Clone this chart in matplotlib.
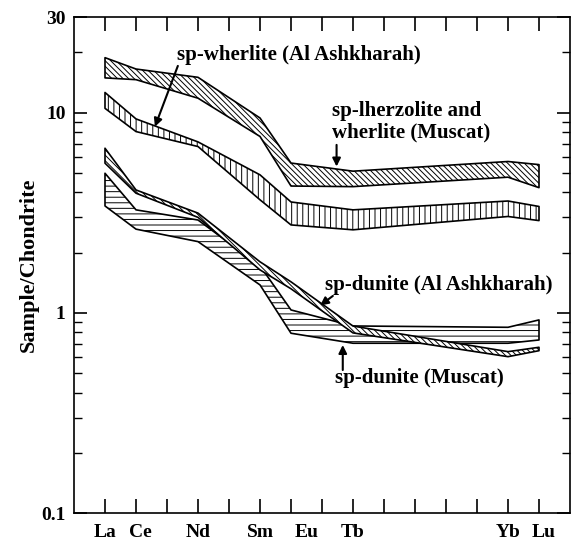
import numpy as np
import matplotlib
matplotlib.use('Agg')
import matplotlib.pyplot as plt
from matplotlib.ticker import FixedLocator, LogLocator, NullFormatter

plt.rcParams['font.family'] = 'Liberation Serif'
plt.rcParams['font.weight'] = 'bold'
plt.rcParams['hatch.linewidth'] = 0.7

# REE series (position on the x axis = index in this list)
ree_all = ['La', 'Ce', 'Pr', 'Nd', 'Pm', 'Sm', 'Eu', 'Gd', 'Tb',
           'Dy', 'Ho', 'Er', 'Tm', 'Yb', 'Lu']
elements = ['La', 'Ce', 'Nd', 'Sm', 'Eu', 'Tb', 'Yb', 'Lu']

# chondrite normalised ranges (upper / lower envelope of each field)
lhz_muscat_hi = [18.8, 16.5, 15.0, 9.4, 5.6, 5.1, 5.7, 5.5]
lhz_muscat_lo = [14.9, 14.6, 11.8, 7.6, 4.3, 4.27, 4.76, 4.22]
wehr_ashk_hi = [12.6, 9.3, 7.14, 4.89, 3.58, 3.27, 3.62, 3.40]
wehr_ashk_lo = [10.5, 8.04, 6.77, 3.67, 2.75, 2.60, 3.03, 2.89]
dun_ashk_hi = [6.64, 4.11, 3.15, 1.80, 1.43, 0.86, 0.641, 0.674]
dun_ashk_lo = [5.59, 3.96, 3.00, 1.64, 1.32, 0.795, 0.605, 0.648]
dun_muscat_hi = [4.98, 3.27, 2.91, 1.72, 1.035, 0.861, 0.848, 0.923]
dun_muscat_lo = [3.42, 2.62, 2.27, 1.38, 0.792, 0.706, 0.706, 0.733]

x = np.array([ree_all.index(e) for e in elements])

fig = plt.figure(figsize=(5.75, 5.42), dpi=100)
ax = fig.add_axes([74/575, 1 - 513.3/542, 496/575, 496.3/542])

# fields, drawn bottom to top
diag = '\\' * 6
fields = [
    (dun_muscat_lo, dun_muscat_hi, '---'),
    (dun_ashk_lo, dun_ashk_hi, diag),
    (wehr_ashk_lo, wehr_ashk_hi, '|||'),
    (lhz_muscat_lo, lhz_muscat_hi, diag),
]
for lo, hi, h in fields:
    ax.fill_between(x, lo, hi, facecolor='white', edgecolor='black',
                    hatch=h, linewidth=1.2)

ax.set_yscale('log')
ax.set_ylim(0.1, 30)
ax.set_xlim(-1, 15)

ax.yaxis.set_major_locator(FixedLocator([0.1, 1, 10, 30]))
ax.set_yticklabels(['0.1', '1', '10', '30'])
ax.yaxis.set_minor_locator(LogLocator(base=10, subs=np.arange(2, 10)))
ax.yaxis.set_minor_formatter(NullFormatter())

label_nudge = {'Ce': 0.15, 'Eu': 0.5, 'Lu': 0.15}
ax.xaxis.remove_overlapping_locs = False
ax.set_xticks(np.arange(len(ree_all)))
ax.set_xticklabels([])
ax.set_xticks([ree_all.index(e) + label_nudge.get(e, 0) for e in elements],
              minor=True)
ax.set_xticklabels(elements, minor=True)

ax.tick_params(axis='both', which='both', direction='in', top=True, right=True)
ax.tick_params(axis='x', which='major', length=10, width=1.2)
ax.tick_params(axis='x', which='minor', length=0, pad=8, labelsize=14)
ax.tick_params(axis='y', which='major', length=9.5, width=1.2,
               labelsize=14, pad=6)
ax.tick_params(axis='y', which='minor', length=5.5, width=1.0)
for s in ax.spines.values():
    s.set_linewidth(1.2)

ax.set_ylabel('Sample/Chondrite', fontsize=16, fontweight='bold')
ax.yaxis.set_label_coords(-0.07, 0.5)

# labels and arrows
arw = dict(arrowstyle='-|>', color='black', lw=1.5, mutation_scale=12,
           shrinkA=0, shrinkB=0)
fs = 15
ax.text(2.32, 19.4, 'sp-wherlite (Al Ashkharah)', fontsize=fs,
        ha='left', va='center')
ax.annotate('', xy=(1.61, 8.5), xytext=(2.35, 17.1), arrowprops=arw)

ax.text(7.32, 9.0, 'sp-lherzolite and\nwherlite (Muscat)', fontsize=fs,
        ha='left', va='center', linespacing=1.1)
ax.annotate('', xy=(7.47, 5.38), xytext=(7.47, 6.9), arrowprops=arw)

ax.text(7.10, 1.38, 'sp-dunite (Al Ashkharah)', fontsize=fs,
        ha='left', va='center')
ax.annotate('', xy=(6.94, 1.09), xytext=(7.35, 1.216), arrowprops=arw)

ax.text(7.42, 0.474, 'sp-dunite (Muscat)', fontsize=fs,
        ha='left', va='center')
ax.annotate('', xy=(7.67, 0.692), xytext=(7.67, 0.519), arrowprops=arw)

fig.savefig('out.png', dpi=100)
